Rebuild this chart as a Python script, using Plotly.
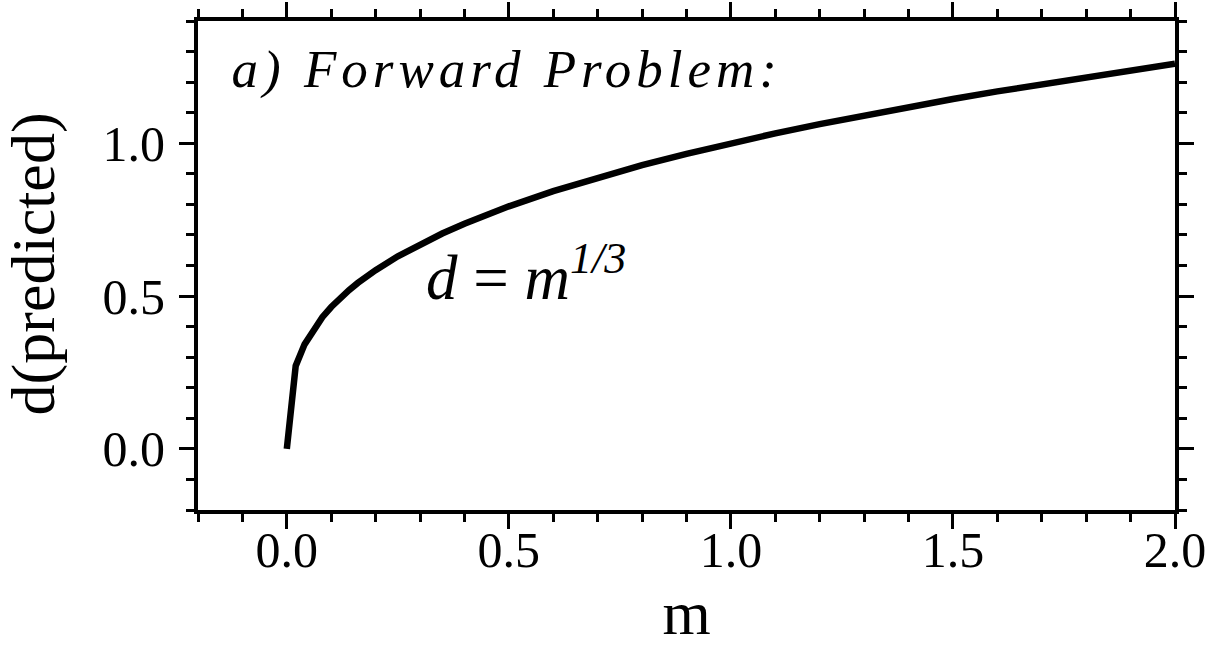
import plotly.graph_objects as go

# model parameter m and predicted datum d = m^(1/3)
m_vals = [0.00, 0.02, 0.04, 0.06, 0.08, 0.10, 0.12, 0.14, 0.16, 0.18, 0.20,
          0.25, 0.30, 0.35, 0.40, 0.45, 0.50, 0.60, 0.70, 0.80, 0.90, 1.00,
          1.10, 1.20, 1.30, 1.40, 1.50, 1.60, 1.70, 1.80, 1.90, 2.00]
d_vals = [0.0000, 0.2714, 0.3420, 0.3915, 0.4309, 0.4642, 0.4932, 0.5192,
          0.5429, 0.5646, 0.5848, 0.6300, 0.6694, 0.7047, 0.7368, 0.7663,
          0.7937, 0.8434, 0.8879, 0.9283, 0.9655, 1.0000, 1.0323, 1.0627,
          1.0914, 1.1187, 1.1447, 1.1696, 1.1935, 1.2164, 1.2386, 1.2599]

x_ticks = [0.0, 0.5, 1.0, 1.5, 2.0]
x_tick_text = ["0.0", "0.5", "1.0", "1.5", "2.0"]
y_ticks = [0.0, 0.5, 1.0]
y_tick_text = ["0.0", "0.5", "1.0"]

SERIF = "Liberation Serif, Times New Roman, serif"

fig = go.Figure()
fig.add_trace(go.Scatter(
    x=m_vals, y=d_vals, mode="lines",
    line=dict(color="black", width=6.5),
    showlegend=False, hoverinfo="skip",
))

axis_common = dict(
    showgrid=False, zeroline=False, automargin=False,
    showline=True, linecolor="black", linewidth=4,
    mirror="allticks",
    ticks="outside", ticklen=15, tickwidth=2.5, tickcolor="black",
    tickfont=dict(family=SERIF, size=50, color="black"),
    minor=dict(dtick=0.1, ticks="outside", ticklen=8, tickwidth=2.5,
               tickcolor="black", showgrid=False),
)

fig.update_xaxes(
    range=[-0.2, 2.0], tickvals=x_ticks, ticktext=x_tick_text,
    title=dict(text="m", font=dict(family=SERIF, size=62, color="black")),
    ticklabelstandoff=-22,
    **axis_common,
)
fig.update_yaxes(
    range=[-0.2, 1.4], tickvals=y_ticks, ticktext=y_tick_text,
    ticklabelstandoff=4,
    **axis_common,
)

# y-axis title placed in the left margin
fig.add_annotation(
    x=-0.168, y=0.504, xref="paper", yref="paper",
    xanchor="center", yanchor="middle", textangle=-90,
    text="d(predicted)", showarrow=False,
    font=dict(family=SERIF, size=62, color="black"),
)

fig.add_annotation(
    x=-0.023, y=1.24, xref="x", yref="y", xanchor="left", yanchor="middle",
    text="<i>a) Forward Problem:</i>", showarrow=False,
    font=dict(family=SERIF, size=53, color="black"),
    name="panel_label",
)
fig.add_annotation(
    x=0.31, y=0.575, xref="x", yref="y", xanchor="left", yanchor="middle",
    text="<i>d</i> = <i>m<sup>1/3</sup></i>", showarrow=False,
    font=dict(family=SERIF, size=63, color="black"),
)

fig.update_layout(
    width=1217, height=647,
    margin=dict(l=198, r=42, t=21, b=137),
    paper_bgcolor="white", plot_bgcolor="white",
)

# widen the letter spacing of the panel label
post = """
var gd = document.getElementsByClassName('plotly-graph-div')[0];
var t = gd.querySelectorAll('.annotation-text')[1];
if (t) { t.style.letterSpacing = '5px'; }
"""

fig.write_html("out.html", post_script=post)
